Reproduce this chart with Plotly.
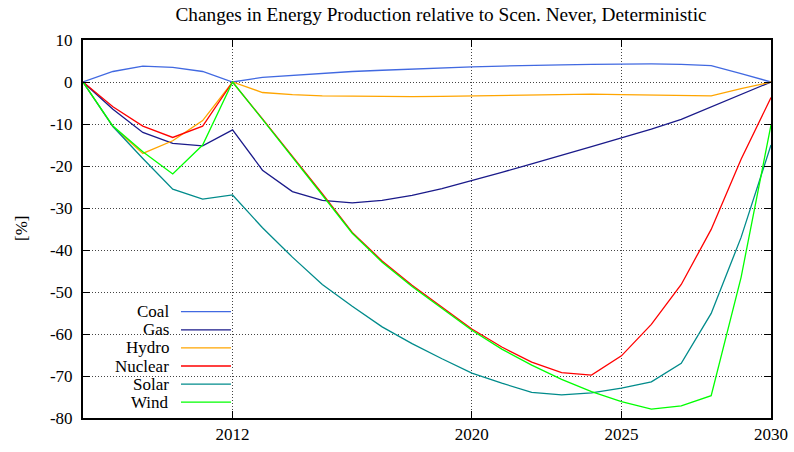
import plotly.graph_objects as go

years = list(range(2007, 2031))

coal = [0, 2.5, 3.8, 3.5, 2.5, 0, 1.1, 1.6, 2.1, 2.5, 2.8, 3.1, 3.4, 3.6, 3.8, 4.0, 4.1, 4.2, 4.3, 4.3, 4.2, 3.9, 2.0, 0]
gas = [0, -6.5, -12.0, -14.6, -15.2, -11.4, -21.0, -26.1, -28.2, -28.8, -28.2, -27.0, -25.4, -23.5, -21.5, -19.5, -17.5, -15.4, -13.3, -11.2, -8.9, -5.9, -3.0, 0]
hydro = [0, -10.6, -17.0, -14.0, -9.2, 0, -2.5, -3.0, -3.3, -3.4, -3.5, -3.5, -3.4, -3.3, -3.2, -3.1, -3.0, -2.9, -3.0, -3.1, -3.2, -3.3, -1.6, 0]
nuclear = [0, -5.9, -10.5, -13.2, -10.5, 0, -8.8, -17.6, -26.6, -35.8, -42.6, -48.4, -53.7, -58.8, -63.1, -66.7, -69.2, -69.8, -65.2, -57.7, -48.2, -35.1, -18.4, -3.7]
solar = [0, -10.6, -18.2, -25.5, -27.9, -26.9, -34.7, -41.7, -48.2, -53.4, -58.3, -62.3, -65.9, -69.3, -71.7, -73.9, -74.5, -74.0, -72.9, -71.4, -67.0, -55.1, -37.0, -15.0]
wind = [0, -10.5, -16.6, -21.9, -15.0, 0, -8.9, -17.8, -26.9, -36.0, -42.9, -48.7, -54.0, -59.1, -63.6, -67.4, -70.8, -73.7, -76.1, -77.9, -77.1, -74.7, -46.5, -10.2]

series_names = ["Coal", "Gas", "Hydro", "Nuclear", "Solar", "Wind"]
series_values = [coal, gas, hydro, nuclear, solar, wind]
series_colors = ["#4169E1", "#1a1a8a", "#FFA500", "#FF0000", "#008B8B", "#00FF00"]

x_ticks = [2012, 2020, 2025, 2030]
y_ticks = list(range(-80, 11, 10))

title_text = "Changes in Energy Production relative to Scen. Never, Deterministic"
y_label = "[%]"

FONT = "Liberation Serif"

fig = go.Figure()
for name, vals, col in zip(series_names, series_values, series_colors):
    fig.add_trace(go.Scatter(x=years, y=vals, mode="lines", name=name,
                             line=dict(color=col, width=1.3), showlegend=False))

# legend box (white, hides grid) drawn between grid and traces
fig.add_shape(type="rect", xref="paper", yref="paper", x0=0, x1=0.2297, y0=0, y1=0.307,
              fillcolor="white", line=dict(width=0), layer="between")

row_y0 = 311.7
row_step = 18.1
for i, (name, col) in enumerate(zip(series_names, series_colors)):
    ypx = row_y0 + i * row_step
    yp = (418 - ypx) / 378
    fig.add_annotation(text=name, xref="paper", yref="paper", x=0.128, y=yp,
                       xanchor="right", yanchor="middle", showarrow=False,
                       font=dict(family=FONT, size=17, color="black"))
    fig.add_shape(type="line", xref="paper", yref="paper", x0=0.1424, x1=0.2151,
                  y0=yp, y1=yp, line=dict(color=col, width=1.3), layer="above")

fig.add_annotation(text=y_label, xref="paper", yref="paper", x=(21 - 83) / 688, y=0.5,
                   xanchor="center", yanchor="middle", textangle=-90, showarrow=False,
                   font=dict(family=FONT, size=17, color="black"))

fig.update_layout(
    width=794, height=452,
    margin=dict(l=83, r=23, t=40, b=34, autoexpand=False),
    paper_bgcolor="white", plot_bgcolor="white",
    title=dict(text=title_text, x=(441 - 83) / 688, xref="paper", y=1 - 14 / 452, yref="container",
               xanchor="center", yanchor="middle", automargin=False,
               font=dict(family=FONT, size=19.3, color="black")),
    font=dict(family=FONT, size=17, color="black"),
)
fig.update_xaxes(range=[2007, 2030], tickvals=x_ticks, ticktext=[str(t) for t in x_ticks],
                 ticks="inside", ticklen=7, tickwidth=1, tickcolor="black", automargin=False,
                 showline=True, linecolor="black", linewidth=2, mirror="allticks",
                 showgrid=True, gridcolor="#444", gridwidth=1, griddash="1px,2px",
                 zeroline=False, tickfont=dict(family=FONT, size=17, color="black"))
fig.update_yaxes(range=[-80, 10], tickvals=y_ticks, ticktext=[str(t) for t in y_ticks],
                 ticks="inside", ticklen=7, tickwidth=1, tickcolor="black", automargin=False,
                 ticklabelstandoff=5,
                 showline=True, linecolor="black", linewidth=2, mirror="allticks",
                 showgrid=True, gridcolor="#444", gridwidth=1, griddash="1px,2px",
                 zeroline=False, tickfont=dict(family=FONT, size=17, color="black"))

fig.write_html("out.html", config={"displayModeBar": False},
               post_script="document.body.style.margin='0';document.body.style.padding='0';")
